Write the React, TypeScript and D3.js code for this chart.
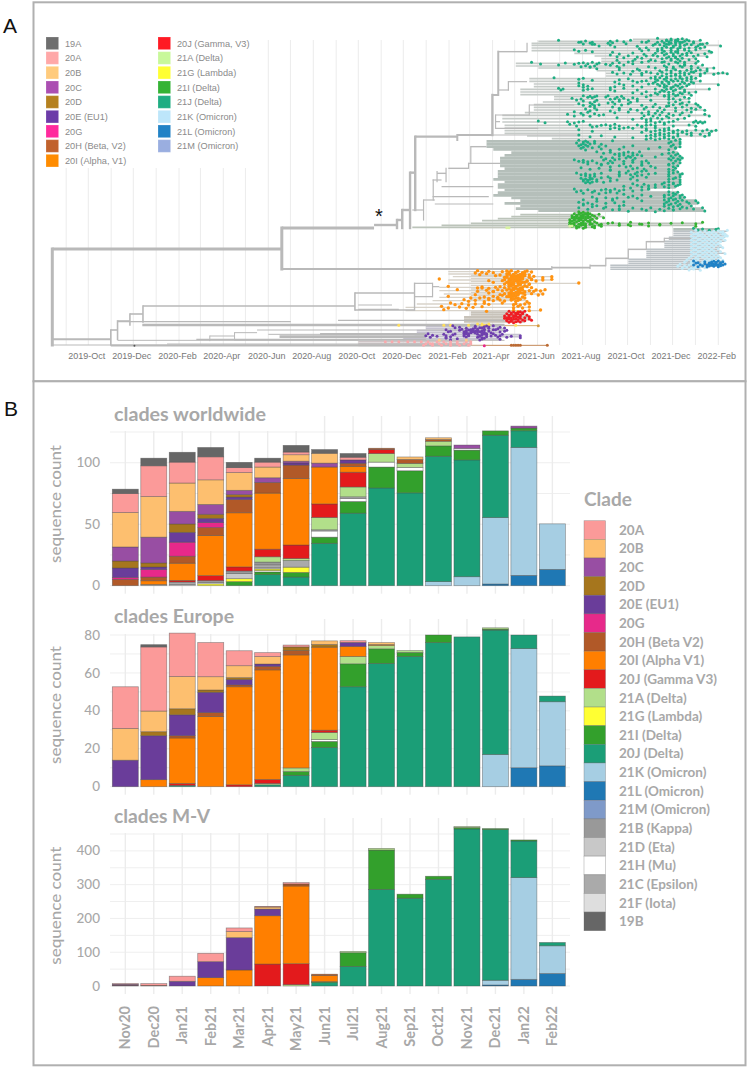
import React from "react";
import * as d3 from "d3";

// ---------- Panel B data ----------
const months = ["Nov20","Dec20","Jan21","Feb21","Mar21","Apr21","May21","Jun21","Jul21","Aug21","Sep21","Oct21","Nov21","Dec21","Jan22","Feb22"];
const cladeLegendLabels = ["20A","20B","20C","20D","20E (EU1)","20G","20H (Beta V2)","20I (Alpha V1)","20J (Gamma V3)","21A (Delta)","21G (Lambda)","21I (Delta)","20J (Delta)","21K (Omicron)","21L (Omicron)","21M (Omicron)","21B (Kappa)","21D (Eta)","21H (Mu)","21C (Epsilon)","21F (Iota)","19B"];
const cladeLegendKeys = ["20A","20B","20C","20D","20E","20G","20H","20I","20J","21A","21G","21I","21J","21K","21L","21M","21B","21D","21H","21C","21F","19B"];
const cladeColors: Record<string,string> = {"20A":"#fb9a99","20B":"#fdbf6f","20C":"#984ea3","20D":"#a6761d","20E":"#6a3d9a","20G":"#e7298a","20H":"#b15928","20I":"#ff7f00","20J":"#e31a1c","21A":"#b2df8a","21G":"#ffff33","21I":"#33a02c","21J":"#1b9e77","21K":"#a6cee3","21L":"#1f78b4","21M":"#7f9ac9","21B":"#999999","21D":"#c8c8c8","21H":"#ffffff","21C":"#aaaaaa","21F":"#dedede","19B":"#666666"};
const stackOrder = ["21M","21L","21K","21J","21I","21H","21G","21F","21D","21C","21B","21A","20J","20I","20H","20G","20E","20D","20C","20B","20A","19B"];

const worldwide: Record<string,number>[] = [
  {"19B":3.5,"20A":15.5,"20B":28,"20C":11.4,"20D":5.7,"20E":7.6,"20G":1.6,"20H":5.2},
  {"19B":6.2,"20A":25,"20B":33,"20C":21,"20D":3.3,"20E":2,"20G":6.2,"20H":3,"20I":3,"21C":1},
  {"19B":8,"20A":17,"20B":23,"20C":10.3,"20D":6.8,"20E":8,"20G":11.4,"20H":5.7,"20I":14,"20J":1.3,"21C":2,"21F":1},
  {"19B":7.6,"20A":18.7,"20B":20,"20C":8,"20D":3.3,"20E":3.5,"20G":4,"20H":6.5,"20I":32.6,"20J":4,"21B":1.5,"21F":1.2,"21G":1.5},
  {"19B":4.3,"20A":4,"20B":14.4,"20C":3.5,"20D":2,"20E":2,"20H":10.8,"20I":44,"20J":3.3,"21B":2,"21D":4.3,"21G":2.4,"21I":3.3},
  {"19B":3.2,"20A":4,"20B":8.7,"20C":3.8,"20H":8.7,"20I":45.6,"20J":6.2,"21A":4.3,"21B":2.2,"21C":2.4,"21D":1,"21G":1.3,"21H":1.1,"21I":2.2,"21J":9},
  {"19B":5.4,"20A":2.2,"20B":5.2,"20C":1.5,"20E":1.7,"20H":11,"20I":54,"20J":11,"21A":1.6,"21C":5.4,"21G":4.3,"21I":3.8,"21J":7},
  {"19B":3,"20B":8,"20C":3.2,"20I":30,"20J":11,"21A":10,"21C":1,"21H":5,"21I":5,"21J":34.5},
  {"19B":3,"20A":2.2,"20E":2.7,"20H":2.7,"20I":4.6,"20J":12,"21A":8,"21C":1.4,"21H":2.4,"21I":9.5,"21J":59},
  {"20H":1,"20J":3.3,"21A":7,"21H":4,"21I":17,"21J":79.5},
  {"20B":2,"20H":3.2,"21A":3.3,"21H":2.7,"21I":18,"21J":75.5},
  {"20B":1.4,"20H":1.4,"21A":3.8,"21I":8.4,"21J":102,"21K":3.3},
  {"20C":2.7,"21H":1.4,"21I":8,"21J":95,"21K":7.3},
  {"21I":3.5,"21J":67,"21K":54,"21L":1.4},
  {"20C":1.6,"21I":2.2,"21J":13.6,"21K":104,"21L":8.4},
  {"21K":37,"21L":13.3},
];
const europe: Record<string,number>[] = [
  {"20A":22,"20B":16.7,"20E":14},
  {"19B":1.2,"20A":33.8,"20B":10.9,"20D":2.1,"20E":23.2,"20I":3.7},
  {"20A":22.9,"20B":17,"20D":3.2,"20E":11,"20J":1,"20I":24,"20H":1.2,"21J":0.7},
  {"20A":18,"20B":7,"20D":1.2,"20E":10.7,"20H":2.1,"20I":37},
  {"20A":7.9,"20B":6.3,"20D":1,"20E":2.8,"20H":1,"20I":51.7,"20J":1},
  {"20A":2.1,"20B":3.9,"20E":1.2,"20H":1.9,"20I":57.8,"20J":2.1,"21A":0.7,"21J":1},
  {"20A":1,"20D":1.9,"20H":2.3,"20I":59.6,"21A":1.9,"21I":2,"21J":6},
  {"20B":1.9,"20D":1.4,"20I":43.8,"20J":1.2,"21A":3.7,"21H":1,"21I":3.2,"21J":20.7},
  {"20A":0.9,"20E":2.1,"20I":5.3,"21A":3.9,"21I":12.1,"21J":52.7},
  {"20B":1,"20I":0.5,"21A":1.8,"21I":7.7,"21J":65},
  {"21A":1,"21I":2.1,"21J":68.7},
  {"21I":4,"21J":76},
  {"21J":79},
  {"21A":0.7,"21I":0.5,"21J":65.6,"21K":17},
  {"21J":7.2,"21K":62.8,"21L":10},
  {"21I":0,"21J":3,"21K":33.8,"21L":11},
];
const mv: Record<string,number>[] = [
  {"20A":2,"20E":3,"20H":2},
  {"20A":5,"20H":2},
  {"20A":15,"20E":14},
  {"20A":24.7,"20E":47.4,"20I":24.7},
  {"20A":10.9,"20B":17.8,"20E":95.8,"20I":47.4},
  {"20A":2,"20B":6,"20E":19.8,"20I":143,"20J":65},
  {"20A":4,"20H":6,"20I":230,"20J":62,"21A":4},
  {"20H":4,"20I":18,"21I":3,"21J":10},
  {"21A":4,"21I":40.5,"21J":58},
  {"21A":5,"21I":116.5,"21J":286},
  {"21I":11.9,"21J":260},
  {"21I":8.9,"21J":316},
  {"21A":3,"21I":4,"21J":465},
  {"21I":3,"21J":446,"21K":14,"21L":3},
  {"21I":3,"21J":108.6,"21K":301,"21L":19.8},
  {"21J":9.9,"21K":82,"21L":37},
];

const panels = [
  {title:"clades worldwide", tw:152, data:worldwide, ticks:[0,50,100], minor:[0,25,50,75,100,125], max:125, y0:585.7, yMax:432, titleY:421, labelY:504},
  {title:"clades Europe", tw:120, data:europe, ticks:[0,20,40,60,80], minor:[0,10,20,30,40,50,60,70,80], max:80, y0:786.7, yMax:635, titleY:622.7, labelY:705},
  {title:"clades M-V", tw:96, data:mv, ticks:[0,100,200,300,400], minor:[0,50,100,150,200,250,300,350,400,450], max:450, y0:986, yMax:834, titleY:823, labelY:905.7},
];

// ---------- Panel A data ----------
const treeMonthLabels = ["2019-Oct","2019-Dec","2020-Feb","2020-Apr","2020-Jun","2020-Aug","2020-Oct","2020-Dec","2021-Feb","2021-Apr","2021-Jun","2021-Aug","2021-Oct","2021-Dec","2022-Feb"];
const treeLegend1 = [["19A","#6e6e6e"],["20A","#ffa8a8"],["20B","#ffcb7d"],["20C","#ab4fb2"],["20D","#b5811f"],["20E (EU1)","#6c3ca8"],["20G","#ff2a9d"],["20H (Beta, V2)","#c1622d"],["20I (Alpha, V1)","#ff8c00"]];
const treeLegend2 = [["20J (Gamma, V3)","#ff1a24"],["21A (Delta)","#c8f89a"],["21G (Lambda)","#ffff33"],["21I (Delta)","#34b334"],["21J (Delta)","#1fad82"],["21K (Omicron)","#bde6fa"],["21L (Omicron)","#2182c6"],["21M (Omicron)","#9aaee0"]];

// time unit: tenths of a month since Dec 2019. rank: tip order, top to bottom.
// horizontal branches [rank, from, to, width]
const treeH: number[][] = [
  [747,-36,66,3],[684,66,107,3],[807,66,186,2.2],[1018,-36,-10,2],[1035,-36,-10,1.2],[990,-10,-7,1.6],[963,-7,-1.5,1.6],[942,-1.5,4.3,1.6],[918,4.3,98.5,1.6],[879,98.5,125,1.4],
  [930,98.5,125,1.4],[675,107,117,2.4],[660,117,119.5,2.4],[630,119.5,123,2.4],[518,123,125.3,2.4],[410,125.3,144,2.4],[405,144,159.6,2],[285,159.6,162.2,2],[155,162.2,175,1.4],
  [803,186,203,1.6],[797,203,210,1.6],[775,210,220,1.6],[748,220,228,1.5],[725,228,236,1.5],[715,236,248,1.2],
  [850,125,133,1.2],[890,125,133,1.2],[860,133,136,1.2],[915,100,115,1.2],[928,100,118,1.2],
  [245,166.7,175,1.2],[270,162.2,167,1.2],[315,176,196,1.2],[345,161,176,1.2],[365,161,163,1.2],[385,161,180,1.2],[405,159.6,199,1.2],
  [440,150,157,1.4],[490,149,163,1.4],[505,140,149,1.4],[520,135,139,1.4],[590,133,158,1.2],[540,133,137,1.2],[600,129,134,1.2],[630,124,129,1.2],[560,137,160,1.2],[612,134,160,1.2],
  [965,-7,70,1.2],[961,91,165,1.2],[1003,60,100,1],[1008,34,45,1],[1020,45,100,1],[998,45,55,1],[990,55,165,1],[1021,-7,165,1],[1032,15,150,1],[1036,-10,150,2.2],
  [975,4,165,2.6],[1010,65,130,2.6],[1002,83,130,2],[1018,28,130,1.4],
];
// vertical branches [time, rankFrom, rankTo, width]
const treeV: number[][] = [
  [-36,747,1035,3],[66,684,807,3],[117.2,660,684,2.4],[119.5,630,684,2.4],[123,518,684,2.4],[125.3,410,630,2.4],[144,405,420,2],[159.6,285,405,2.4],[162.2,155,285,2],[175,130,155,1.2],
  [-10,990,1035,1.6],[-7,963,1018,1.6],[-1.5,942,975,1.6],[4.3,918,966,1.6],[98.5,879,930,1.6],[125,850,930,1.4],[133,850,890,1.2],
  [186,800,808,1.2],[203,795,805,1.2],[210,775,797,1.2],[220,748,775,1.2],[228,725,748,1.2],[236,715,725,1.2],
  [166.7,245,270,1.2],[176,315,345,1.2],[161,345,385,1.2],[150,440,490,1.2],[149,490,505,1.2],[139,505,545,1.2],[135,515,545,1.2],[133.3,540,600,1.2],[129,600,660,1.2],
  [34,1008,1022,1],[45,998,1020,1],
];

// tips: [rank, branch start, ...sample dates]
const clade21JUpper: number[][] = [
  [118,222,233,237,239,241,242,244,246],[124,180,189,199,201,204,212,215,218,221,226,229,233,235,237,238,239,241,242,243,245,247,249,252],
  [130,177,198,200,203,205,211,213,219,228,232,236,237,239,241,243,244,246,249,252,255],[136,177,204,207,212,224,231,234,236,238,240,241,243,245,248,251,253,261],
  [144,177,214,225,228,233,235,237,239,240,242,243,245,247,250,252,254],[152,177,196,198,201,204,226,229,233,235,236,239,241,242,245,247,250,256],
  [160,196,213,216,222,227,232,235,237,239,240,242,244,246,248,254,257],[168,205,212,215,220,224,228,231,233,236,238,240,241,243,246,249,251,255],
  [176,208,218,223,226,230,235,237,239,241,242,244,247,250],[184,208,215,220,222,226,229,232,236,239,241,243,245,251],
  [190,170,177,181,192,196,198,200,202,204,206,207,210,213,216,222,235,238,242,245,250],[198,170,189,199,201,203,205,212,215,218,229,236,240,243,245,248,253],
  [204,180,203,206,216,224,232,237,240,244,248,251,255,258],[212,206,216,222,225,228,234,237,239,241,243,246,248,250,252,255],
  [220,210,213,215,218,221,226,230,233,235,237,239,241,243,245,247,249,252,254,258,260,262,264],[228,210,226,232,235,237,239,241,243,245,248,252],
  [236,176,187,198,200,216,220,230,232,234,236,237,239,241,243,244,246,248,250],[244,176,204,214,222,224,226,228,232,233,235,237,238,240,242,244,246,248,252],
  [252,178,198,200,216,218,229,231,233,235,236,238,241,243,245,247,249,260],[260,178,198,200,202,212,214,222,226,234,236,237,239,240,242,244,246],
  [268,172,189,190,191,200,202,204,212,218,224,232,235,237,239,241,243,245,256],[276,172,214,222,228,232,234,236,238,240,243,245,247,250],
  [284,172,226,230,233,236,238,240,242,244,248],
  [290,187,200,202,203,204,205,206,210,211,215,217,222,228,236,238,241,245],[298,187,195,197,199,206,212,214,216,218,220,224,230,238,240,243,247],
  [306,182,200,203,205,211,213,216,221,224,238,241,244,247],[314,178,198,200,204,205,207,214,217,220,226,232,238,240,243,246,250,251],
  [322,178,203,205,213,216,228,231,234,237,241,244,248,252],[330,178,201,203,206,212,216,221,224,227,233,236,241,246,250,254],
  [338,174,196,199,202,205,214,220,226,229,232,235,238,244,248],[346,164,193,196,200,203,207,209,227,229,231,234,237,240,243,247,254,256],
  [356,164,215,222,226,228,230,233,235,238,242,245],[366,164,180,183,193,196,198,200,228,230,232,234,236,238,240,249,250,251,252,253,254],
  [376,165,194,197,203,206,208,210,212,214,216,224,226,228,230,232,236,240,247,250],[384,165,204,212,214,216,218,220,222,226,228,232,236,238],
  [392,165,198,204,228,230,232,234,236,238,240,242,244,246,250,253,255,257,259],[400,165,226,232,234,236,238,240,242,244,246,248,252,256],
  [408,175,198,203,208,214,228,230,232,234,236,238,240,242,248,254,256],[416,186,222,228,230,232,234,236,238,240,243],
];
const clade21JLower: number[][] = [
  [424,157,198,200,201,202,205,213,239,241,243],[432,157,197,199,200,201,203,205,208,238,240,243],[440,157,198,200,202,204,207,210,218,222,234,239,241,243],
  [448,160,199,201,208,212,216,229,238,241],[458,168,206,209,212,216,218,220,222,225,238,240,242],[466,165,214,216,218,220,222,224,226,235,239,241,243],
  [474,163,208,210,213,216,219,221,223,232,238,240,242,244],[482,163,196,198,200,202,204,209,212,214,218,222,226,228,239,241,243],
  [490,163,200,202,206,208,211,213,218,222,226,229,238,240,243],[498,163,208,212,216,219,221,226,230,238,240,242],
  [506,165,199,203,207,212,222,224,227,232,238,241],[514,162,212,216,220,224,226,228,238,240,242],
  [522,162,197,199,201,203,205,208,216,219,221,223,226,229,232,238,240,243,244],[530,162,201,203,205,208,211,216,222,224,228,238,241,243],
  [538,160,199,200,201,202,203,204,206,212,215,221,224,238,240,243],[546,165,200,201,202,203,204,206,209,212,236,238,240,243],
  [554,162,222,224,227,229,232,235,238,240,242,243],[562,162,218,221,226,229,232,236,238,241],
  [570,165,196,199,202,205,208,210,212,214,216,218,222,226,229],[578,162,197,200,204,207,210,212,215,238,240,242],
  [586,160,218,222,226,230,236,238,240,241,243,244],[594,168,204,206,210,213,215,220,224,236,238,239,241,243,245],
  [602,172,200,206,213,218,226,236,238,240,242,244,246,250],[610,165,198,200,202,204,210,214,236,237,239,241,243,247,251],
  [618,172,200,204,206,210,216,218,236,238,240,242,244,248],[626,170,198,202,209,213,216,222,226,230,234,238,240,243,246,249,253],
  [632,180,216,220,228,232,236,240,254],[688,240,249,251,253,256,259,260],
];
const clade21I: number[][] = [
  [638,196,198,199,200,201,202],[644,172,196,197,198,199,200,201,202,203,204,207],[650,168,195,196,197,198,199,200,201,202,203,205,209],
  [656,162,195,196,197,198,199,200,201,202,204,206],[662,155,194,195,196,197,198,199,200,201,202,203,205],
  [670,150,194,195,196,198,199,200,201,203,204,206,208,211,213,216,221,225,229,234,239,244,250,253],[676,137,194,195,196,197,199,200,201,203,205,207,208,216,220,221,226,229,234,250],
  [682,124,195,197,198,200,201,204,205],
];
const clade21A: number[][] = [[683,150,166,167],[678,180,194,195]];
const clade21K: number[][] = [
  [694,240,250,252,254,256,258,260,262,264],[700,240,248,250,251,253,255,257,259,261,263],[706,240,249,251,252,254,256,258,260,262,264],[712,238,248,250,253,255,257,259,261,263],
  [718,238,249,251,252,254,256,258,260,262],[724,236,248,250,253,255,257,259,261,263],[730,236,249,251,252,254,256,258,260],[736,236,248,250,253,255,257,259,261],
  [742,236,249,251,252,254,256,258,262],[748,228,248,250,253,255,257,260],[754,228,249,251,252,254,256,258,261],[760,228,248,250,253,255,257,259,263],
  [766,228,249,251,252,254,256,258,260],[772,228,248,250,253,255,257,259,261],[778,220,247,249,251,254,256,258,260],[784,220,246,248,250,253,255,257,259,262],
  [790,220,245,248,249,252,254,256,258],[796,212,243,245,247,249,251,253,255,257],[802,212,242,244,246,248,250,252,254],[808,212,244,247,249,252],
];
const clade21L: number[][] = [
  [786,246,249,251,254,256,257,258,259,260,261,262],[792,246,250,252,254,255,256,257,258,259,260,261,262,263],[798,246,249,251,253,255,256,257,258,259,260,261],
];
const cladeAlpha: number[][] = [
  [815,140,153,155,158,160,164,166,167,168,170,171,173,174,175,177],[822,140,152,154,157,163,166,167,169,170,172,173,176],
  [830,142,161,165,166,168,169,171,172,174,176,178,182,186],[840,140,136,164,165,167,168,170,171,173,175,177,179,182,186],
  [850,140,160,165,167,168,169,171,172,174,176,198],[862,136,140,153,155,158,161,163,165,167,169,170,172,173,175,177],
  [872,136,144,153,157,160,164,166,168,169,171,172,174,176,179,181,183],[882,138,158,163,165,167,168,170,171,173,174,177,180,182],
  [892,136,140,154,156,158,162,166,168,169,171,173],[902,133,147,149,152,156,160,163,165,168,170,171,175],
  [912,126,141,143,146,149,152,156,158,164,169,170,172,174,176],[922,121,137,140,145,148,151,155,169,171,173,176],[932,121,138,157,169,171,176,181],
  [826,150,167,168,169,170,171,172,173,174],[835,150,166,167,168,169,170,171,172,173,177],[845,150,158,166,167,168,169,170,171,172,173,175],[856,150,167,168,169,170,171,172,174,176],
  [867,150,155,162,167,168,169,170,171,172,173],[877,150,160,167,168,169,170,171,172,178],[887,150,152,160,164,167,168,169,170,171],[897,150,150,158,162,168,169,170,172,174],
];
const cladeGamma: number[][] = [
  [937,150,167,168,169,170,171,172,173,174],[944,150,166,167,168,169,170,171,172,173,175],[951,147,165,166,167,168,169,170,171,172,174,176],[958,147,165,166,167,168,169,170,171,172,173,176,177],[965,147,166,167,168,169,170,171,172,174],
];
const cladeLambda: number[][] = [[976,118,118,138,141,149,155,156,157,158,170],[972,150,153,155,158]];
const cladeEU1: number[][] = [
  [980,130,142,145,152,154,156,157,158,160,163],[986,130,143,146,148,150,151,152,153,155,156,158,160,162,165],[992,126,139,141,145,147,148,149,150,151,152,153,154,155,156,158,161,165,166],
  [998,126,140,147,148,149,150,151,152,153,155,156,157,159,163],[1004,125,131,133,138,139,142,143,147,148,149,153,154,155,156,157,160,161,164,172],[1010,120,130,132,135,139,141,147,148,149,153,154,155,157,159,162,163,166,168,172],
  [1017,120,139,141,144,154,155,156,163],
];
const clade20A: number[][] = [[1025,100,112,115,118,122,125,128,131,135,138,141,144,148,150],[1031,100,130,132,133,136,139,141,144,147,150],[1036,100,129,133,137,141,145,149]];
const clade20H: number[][] = [[1036,150,168,169,170,171,172,184]];
const clade20G: number[][] = [[1037,150,156]];
const clade19A: number[][] = [[1037,0,0.5]];
const clade20B: number[][] = [[1020,120,136,148]];
const tanTips: number[][] = [[977,165,180]];

const tipGroups: {rows:number[][];dot:string;branch:string;w:number;stagger?:boolean;r?:number}[] = [
  {rows:clade21JUpper,dot:"#1fae83",branch:"#c6cbc8",w:1.6,stagger:true},
  {rows:clade21JLower,dot:"#1fae83",branch:"#b5bfba",w:2.6,stagger:true},
  {rows:clade21I,dot:"#35b233",branch:"#bcc4ba",w:1.6,stagger:true},
  {rows:clade21A,dot:"#d8f2a2",branch:"#c6cabf",w:1},
  {rows:clade21K,dot:"#c4ebf8",branch:"#bcc2c6",w:1.5,stagger:true},
  {rows:clade21L,dot:"#2182c6",branch:"#bcc2c6",w:1.6,stagger:true},
  {rows:cladeAlpha,dot:"#ff9312",branch:"#d8d3ca",w:1.4,stagger:true,r:1.7},
  {rows:cladeGamma,dot:"#ef1c24",branch:"#c8c3ba",w:2.2,stagger:true},
  {rows:cladeLambda,dot:"#ffdf5c",branch:"#cccccc",w:1},
  {rows:cladeEU1,dot:"#6e40ad",branch:"#c6c3d0",w:1.8,stagger:true},
  {rows:clade20A,dot:"#f9aaad",branch:"#cfc5c7",w:1.6},
  {rows:clade20B,dot:"#fdcb85",branch:"#d0d0d0",w:0.8},
  {rows:clade20H,dot:"#bb6a33",branch:"#c58a5a",w:1},
  {rows:clade20G,dot:"#e7298a",branch:"#d0d0d0",w:0.6},
  {rows:clade19A,dot:"#555555",branch:"#cccccc",w:0.5,r:1},
  {rows:tanTips,dot:"#d49a3d",branch:"#d8b070",w:1},
];
// tips that share a row are drawn a little apart, as they are in the tree
const rowOffsets = [-3,2,-1,3,0,-2,1];

const GREY = "#a8a8a8";
const FONT = "Lato, 'Open Sans', sans-serif";
const ARIAL = "'Liberation Sans', Arial, sans-serif";

const xBand = d3.scaleBand<string>().domain(months).range([111.07, 566.6]).paddingInner(0.0868).paddingOuter(0.0434);
const xTime = d3.scaleUtc().domain([new Date(Date.UTC(2019,11,1)), new Date(Date.UTC(2022,1,1))]).range([133.3, 718.3]);
const xTree = d3.scaleLinear().domain([0,260]).range([133.3,718.3]);
const yTree = d3.scaleLinear().domain([0,1035]).range([0,345]);
const parseMonth = d3.utcParse("%Y-%b");

function TreePanel() {
  const grid = d3.utcMonth.range(new Date(Date.UTC(2019,8,1)), new Date(Date.UTC(2022,1,2)));
  return (
    <g>
      {grid.map((d,i)=><line key={i} x1={xTime(d)} x2={xTime(d)} y1={40} y2={345} stroke="#ececec" strokeWidth={1}/>)}
      <rect x={40} y={30} width={212} height={138} fill="#fff"/>
      {tipGroups.map((g,gi)=>g.rows.map((r,i)=>{
        const dots = r.slice(2);
        return <line key={gi+"-"+i} x1={xTree(r[1])} x2={xTree(d3.max(dots)!)} y1={yTree(r[0])} y2={yTree(r[0])} stroke={g.branch} strokeWidth={g.w}/>;
      }))}
      {treeH.map((s,i)=><line key={"h"+i} x1={xTree(s[1])} x2={xTree(s[2])} y1={yTree(s[0])} y2={yTree(s[0])} stroke="#b9b9b9" strokeWidth={s[3]}/>)}
      {treeV.map((s,i)=><line key={"v"+i} x1={xTree(s[0])} x2={xTree(s[0])} y1={yTree(s[1])} y2={yTree(s[2])} stroke="#b9b9b9" strokeWidth={s[3]} strokeLinecap="square"/>)}
      {tipGroups.map((g,gi)=>g.rows.map((r,i)=>r.slice(2).map((t,j)=>
        <circle key={gi+"-"+i+"-"+j} cx={xTree(t)} cy={yTree(r[0]+(g.stagger?rowOffsets[j%rowOffsets.length]:0))} r={g.r??1.5} fill={g.dot}/>
      )))}
      {treeMonthLabels.map(l=>{
        const d = parseMonth(l)!;
        return <text key={l} x={xTime(d)-1.6} y={359} textAnchor="middle" fontFamily={ARIAL} fontSize={9} fill="#777">{l}</text>;
      })}
      {[treeLegend1,treeLegend2].map((col,ci)=>col.map(([lab,c],i)=>(
        <g key={lab}>
          <rect x={ci?158:46} y={37+14.67*i} width={12.6} height={12.6} fill={c} stroke="#fff" strokeOpacity={0.2}/>
          <text x={ci?177:65} y={46.5+14.67*i} fontFamily={ARIAL} fontSize={9.2} fill="#8a8a8a">{lab}</text>
        </g>
      )))}
      <text x={379} y={223} textAnchor="middle" fontFamily={ARIAL} fontSize={20} fill="#111">*</text>
    </g>
  );
}

function BarPanel({p,last}:{p:typeof panels[number];last:boolean}) {
  const y = d3.scaleLinear().domain([0,p.max]).range([p.y0,p.yMax]);
  const series = d3.stack<Record<string,number>>().keys(stackOrder).value((d,k)=>d[k]||0)(p.data);
  const top = p.yMax-16;
  const bottom = p.y0+8;
  return (
    <g>
      {p.minor.map(v=><line key={v} x1={110} x2={570} y1={y(v)} y2={y(v)} stroke="#efefef" strokeWidth={1}/>)}
      {months.map(m=>{const c=xBand(m)!+xBand.bandwidth()/2;return <line key={m} x1={c} x2={c} y1={top} y2={bottom} stroke="#ececec" strokeWidth={1.4}/>;})}
      <rect x={105} y={top-6} width={211} height={p.yMax-top+5} fill="#fff"/>
      {series.map(s=>s.map((d,i)=>{
        if(d[1]-d[0]<=0) return null;
        return <rect key={s.key+i} x={xBand(months[i])} width={xBand.bandwidth()} y={y(d[1])} height={y(d[0])-y(d[1])} fill={cladeColors[s.key]} stroke="#4a4a4a" strokeOpacity={0.55} strokeWidth={0.7}/>;
      }))}
      {p.ticks.map(v=><text key={v} x={100} y={y(v)+4.6} textAnchor="end" fontFamily={FONT} fontWeight={500} fontSize={13.5} fill={GREY}>{v}</text>)}
      <text x={114} y={p.titleY} fontFamily={FONT} fontWeight={700} fontSize={18} textLength={p.tw} lengthAdjust="spacingAndGlyphs" fill={GREY}>{p.title}</text>
      <text transform={`translate(61,${p.labelY}) rotate(-90)`} textAnchor="middle" fontFamily={FONT} fontWeight={500} fontSize={15.5} textLength={118} lengthAdjust="spacingAndGlyphs" fill={GREY}>sequence count</text>
      {last && months.map(m=>{
        const c=xBand(m)!+xBand.bandwidth()/2;
        return <text key={m} transform={`translate(${c+5},1006) rotate(-90)`} textAnchor="end" fontFamily={FONT} fontWeight={700} fontSize={14.5} fill={GREY}>{m}</text>;
      })}
    </g>
  );
}

function CladeLegend() {
  const y = d3.scaleBand<string>().domain(cladeLegendKeys).range([520.7,930.7]);
  return (
    <g>
      <text x={584} y={506} fontFamily={FONT} fontWeight={700} fontSize={19} fill={GREY}>Clade</text>
      {cladeLegendKeys.map((k,i)=>(
        <g key={k}>
          <rect x={584} y={y(k)} width={21.5} height={y.bandwidth()} fill={cladeColors[k]} stroke="#666" strokeOpacity={0.5} strokeWidth={0.6}/>
          <text x={619} y={y(k)!+y.bandwidth()/2+4.8} fontFamily={FONT} fontWeight={700} fontSize={13.5} fill={GREY}>{cladeLegendLabels[i]}</text>
        </g>
      ))}
    </g>
  );
}

export default function App() {
  return (
    <svg width={750} height={1068} viewBox="0 0 750 1068" style={{position:"absolute",left:0,top:0,background:"#fff"}}>
      <rect x={33.5} y={2.3} width={712} height={379} fill="#fff" stroke="#b0b0b0" strokeWidth={2}/>
      <rect x={33.5} y={381.3} width={712} height={684} fill="#fff" stroke="#b0b0b0" strokeWidth={2}/>
      <text x={3} y={33} fontFamily={ARIAL} fontSize={21} fill="#111">A</text>
      <text x={4} y={416} fontFamily={ARIAL} fontSize={21} fill="#111">B</text>
      <TreePanel/>
      {panels.map((p,i)=><BarPanel key={p.title} p={p} last={i===2}/>)}
      <CladeLegend/>
    </svg>
  );
}
